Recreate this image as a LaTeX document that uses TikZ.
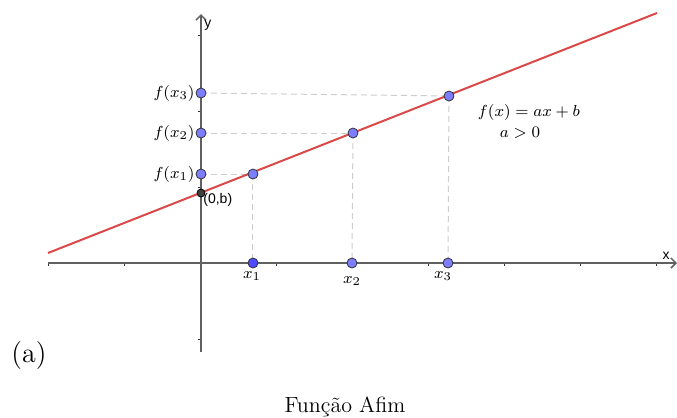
\documentclass[tikz,border=0pt]{standalone}
\usepackage{fontspec}
\newfontfamily\ggsans{Liberation Sans}
\usetikzlibrary{arrows.meta}
\definecolor{ptblue}{RGB}{125,125,255}
\definecolor{ptdark}{RGB}{77,77,255}
\definecolor{fnred}{RGB}{220,72,72}
\definecolor{dashgray}{RGB}{205,205,205}
\begin{document}
\begin{tikzpicture}[x=0.5pt,y=-0.5pt,
  axisline/.style={draw=gray!75!black, line width=0.75pt},
  tickmark/.style={draw=gray!40!black, line width=0.5pt},
  helper/.style={draw=dashgray, line width=0.5pt, dash pattern=on 3pt off 2pt},
  fnline/.style={draw=fnred, line width=1pt},
  pt/.style={circle, draw=black!80, fill=ptblue, line width=0.4pt, inner sep=0pt, minimum size=5pt},
  ptd/.style={pt, fill=ptdark},
  ptb/.style={circle, draw=black, fill=black!75, line width=0.4pt, inner sep=0pt, minimum size=4pt},
  lbl/.style={font=\fontsize{8.4}{10}\selectfont, inner sep=0pt},
  sanslbl/.style={font=\ggsans\fontsize{7}{8}\selectfont, inner sep=0pt}]
\useasboundingbox (0,0) rectangle (677,418);
% axes
\coordinate (xs) at (48,263);
\coordinate (xe) at (677,263);
\coordinate (ys) at (201,352);
\coordinate (ye) at (201,14);
\foreach \t in {49,125,277,429,505,581,657} \draw[tickmark] (\t,263) -- (\t,266);
\foreach \t in {35,111,187,339} \draw[tickmark] (201,\t) -- (198,\t);
\draw[axisline, -{Straight Barb[length=2.5pt,width=5pt]}] (xs) -- (xe);
\draw[axisline, -{Straight Barb[length=2.5pt,width=5pt]}] (ys) -- (ye);
\node[sanslbl] (ylab) at (208,25) {y};
\node[sanslbl] (xlab) at (666,256) {x};
% points on the line
\coordinate (p0) at (201,193);
\coordinate (c1) at (253,174);
\coordinate (c2) at (353,133);
\coordinate (c3) at (449,96);
% axis points
\coordinate (a1) at (201,174);
\coordinate (a2) at (201,133);
\coordinate (a3) at (201,93);
\coordinate (b1) at (253,263);
\coordinate (b2) at (352,263);
\coordinate (b3) at (448,263);
% helper dashed lines
\draw[helper] (a1) -- (c1);
\draw[helper] (a2) -- (c2);
\draw[helper] (a3) -- (c3);
\draw[helper] (c1) -- (b1);
\draw[helper] (c2) -- (b2);
\draw[helper] (c3) -- (b3);
% function line
\coordinate (lstart) at (48,253);
\coordinate (lend) at (657,13);
\draw[fnline] (lstart) -- (lend);
% points
\node[pt] (n1) at (c1) {};
\node[pt] (n2) at (c2) {};
\node[pt] (n3) at (c3) {};
\node[pt] (m1) at (a1) {};
\node[pt] (m2) at (a2) {};
\node[pt] (m3) at (a3) {};
\node[ptd] (k1) at (b1) {};
\node[pt] (k2) at (b2) {};
\node[pt] (k3) at (b3) {};
\node[ptb] (q0) at (p0) {};
% labels
\node[lbl, anchor=east] (fx3) at (195,93) {$f(x_3)$};
\node[lbl, anchor=east] (fx2) at (195,133) {$f(x_2)$};
\node[lbl, anchor=east] (fx1) at (195,174) {$f(x_1)$};
\node[sanslbl, anchor=west] (ob) at (203,200) {(0,b)};
\node[lbl, anchor=north] (x1) at (252,271) {$x_1$};
\node[lbl, anchor=north] (x2) at (352,276) {$x_2$};
\node[lbl, anchor=north] (x3) at (443,271) {$x_3$};
\node[lbl] (eq) at (529,112) {$f(x)=ax+b$};
\node[lbl] (cond) at (520,133) {$a>0$};
\node[font=\fontsize{14}{16}\selectfont, inner sep=0pt] (tag) at (29,356) {(a)};
\node[font=\fontsize{11}{13}\selectfont, inner sep=0pt] (cap) at (345,407) {Função Afim};
\end{tikzpicture}
\end{document}
